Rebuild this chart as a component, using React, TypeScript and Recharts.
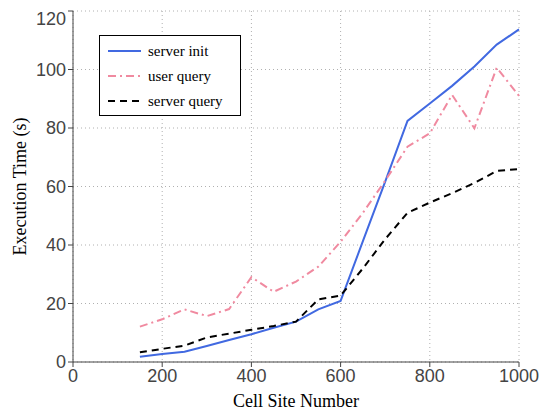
import React from 'react';
import { LineChart, Line, XAxis, YAxis, CartesianGrid } from 'recharts';

const cellSites = [150, 200, 250, 300, 350, 400, 450, 500, 550, 600, 650, 700, 750, 800, 850, 900, 950, 1000];
const serverInit = [1.8, 2.7, 3.5, 5.5, 7.5, 9.5, 11.7, 13.8, 18, 20.9, 41.3, 61.7, 82.4, 88.4, 94.4, 101, 108.5, 113.7];
const userQuery = [12.1, 14.6, 18, 15.7, 18.1, 29, 24, 27.5, 32.6, 41.1, 51, 62, 73.6, 78.2, 91.3, 79.9, 100.6, 91];
const serverQuery = [3.3, 4.5, 5.6, 8.4, 9.7, 11, 12.3, 13.8, 21.4, 22.7, 32, 42, 51, 54.5, 57.7, 61.2, 65.3, 66];
const xTicks = [0, 200, 400, 600, 800, 1000];
const yTicks = [0, 20, 40, 60, 80, 100, 120];

const data = cellSites.map((x, i) => ({
  x,
  serverInit: serverInit[i],
  userQuery: userQuery[i],
  serverQuery: serverQuery[i],
}));

const BLUE = '#4169e1';
const PINK = '#f08aa0';
const BLACK = '#000000';
const AXIS = '#444444';
const SERIF = '"Liberation Serif", "Times New Roman", serif';
const SANS = '"Liberation Sans", Arial, sans-serif';

const legendItems = [
  { name: 'server init', color: BLUE, dash: undefined as string | undefined },
  { name: 'user query', color: PINK, dash: '8 4 2 4' },
  { name: 'server query', color: BLACK, dash: '7 5' },
];

const LegendBox = () => (
  <div
    style={{
      position: 'absolute',
      left: 91,
      top: 27,
      border: '1px solid #000',
      width: 142,
      height: 81,
      background: '#fff',
      boxSizing: 'border-box',
    }}
  >
    {legendItems.map((it, i) => (
      <div
        key={it.name}
        style={{ position: 'absolute', left: 0, top: 4 + i * 25, height: 22, display: 'flex', alignItems: 'center' }}
      >
        <svg width={48} height={22} style={{ display: 'block' }}>
          <line x1={8} x2={41} y1={11} y2={11} stroke={it.color} strokeWidth={2} strokeDasharray={it.dash} />
        </svg>
        <span style={{ fontFamily: SERIF, fontSize: 15, color: '#000', whiteSpace: 'nowrap' }}>{it.name}</span>
      </div>
    ))}
  </div>
);

const YLabel = (props: any) => {
  const vb = props.viewBox || { x: 0, y: 0, width: 0, height: 0 };
  const cx = 12;
  const cy = vb.y + vb.height / 2;
  return (
    <text
      x={cx}
      y={cy}
      transform={`rotate(-90, ${cx}, ${cy})`}
      textAnchor="middle"
      dominantBaseline="central"
      style={{ fontFamily: SERIF, fontSize: 18, fill: '#000' }}
    >
      Execution Time (s)
    </text>
  );
};

const XLabel = (props: any) => {
  const vb = props.viewBox || { x: 0, y: 0, width: 0, height: 0 };
  const cx = vb.x + vb.width / 2;
  const cy = vb.y + 39;
  return (
    <text
      x={cx}
      y={cy}
      textAnchor="middle"
      dominantBaseline="central"
      style={{ fontFamily: SERIF, fontSize: 18, fill: '#000' }}
    >
      Cell Site Number
    </text>
  );
};

export default function App() {
  return (
    <div style={{ position: 'relative', width: 546, height: 404 }}>
      <LineChart
        width={546}
        height={404}
        data={data}
        margin={{ top: 3, right: 35, bottom: 20, left: 20 }}
      >
        <CartesianGrid stroke="#b0b0b0" strokeDasharray="1 3" />
        <XAxis
          dataKey="x"
          type="number"
          domain={[0, 1000]}
          ticks={xTicks}
          height={30}
          stroke={AXIS}
          tickSize={5}
          tick={{ fill: '#444', fontSize: 18, fontFamily: SANS }}
          label={<XLabel />}
        />
        <YAxis
          type="number"
          domain={[0, 120]}
          ticks={yTicks}
          width={45}
          stroke={AXIS}
          tickSize={5}
          tick={{ fill: '#444', fontSize: 18, fontFamily: SANS }}
          label={<YLabel />}
        />
        <Line type="linear" dataKey="serverInit" name="server init" stroke={BLUE} strokeWidth={2} dot={false} isAnimationActive={false} />
        <Line type="linear" dataKey="userQuery" name="user query" stroke={PINK} strokeWidth={2} strokeDasharray="8 4 2 4" dot={false} isAnimationActive={false} />
        <Line type="linear" dataKey="serverQuery" name="server query" stroke={BLACK} strokeWidth={2} strokeDasharray="7 5" dot={false} isAnimationActive={false} />
      </LineChart>
      <LegendBox />
    </div>
  );
}
